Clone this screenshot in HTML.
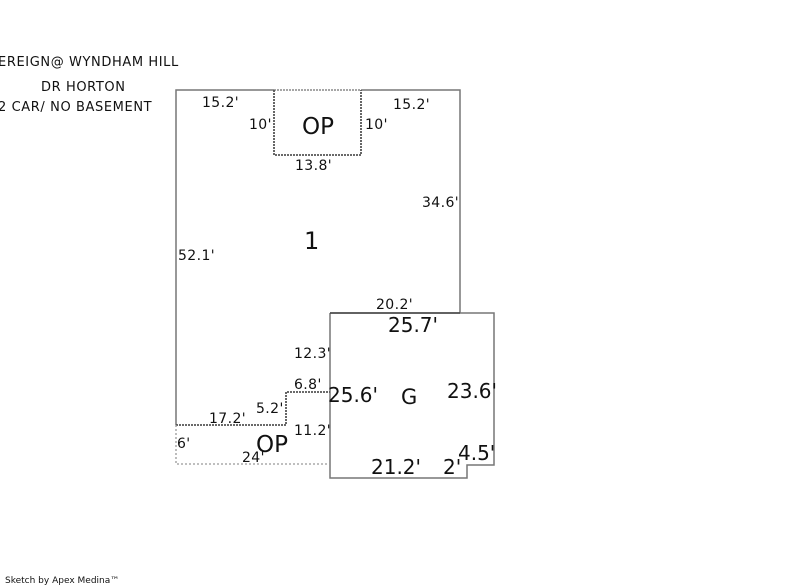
<!DOCTYPE html>
<html><head><meta charset="utf-8"><style>
html,body{margin:0;padding:0;background:#fff;}
svg{display:block;}
text{font-family:"DejaVu Sans","Liberation Sans",sans-serif;fill:#111;}
.s{font-size:14px;letter-spacing:0.4px;}
.h{font-size:13px;letter-spacing:0.6px;}
.m{font-size:20px;}
</style></head><body>
<svg width="800" height="587" viewBox="0 0 800 587" xmlns="http://www.w3.org/2000/svg">
<g fill="none" stroke="#777" stroke-width="1.5">
<polyline points="274,90 176,90 176,425"/>
<polyline points="361,90 460,90 460,313"/>
<polyline points="330,313 494,313 494,465 467,465 467,478 330,478 330,313"/>
</g>
<g fill="none" stroke="#555" stroke-width="1.8" stroke-dasharray="2,1">
<line x1="274" y1="90" x2="361" y2="90" stroke="#999"/>
<polyline points="274,90 274,155 361,155 361,90"/>
<polyline points="176,425 286,425 286,392 330,392"/>
</g>
<g fill="none" stroke="#999" stroke-width="1.3" stroke-dasharray="2,2">
<polyline points="176,425 176,464 330,464"/>
</g>
<line x1="330" y1="313" x2="460" y2="313" stroke="#444" stroke-width="1.5"/>
<text class="h" x="-2" y="66">EREIGN@ WYNDHAM HILL</text>
<text class="h" x="41" y="91">DR HORTON</text>
<text class="h" x="-2" y="111">2 CAR/ NO BASEMENT</text>
<text class="s" x="202" y="107">15.2'</text>
<text class="s" x="393" y="109">15.2'</text>
<text class="s" x="249" y="129">10'</text>
<text class="s" x="365" y="129">10'</text>
<text style="font-size:23px" x="302" y="134">OP</text>
<text class="s" x="295" y="170">13.8'</text>
<text class="s" x="422" y="207">34.6'</text>
<text style="font-size:24px" x="304" y="249">1</text>
<text class="s" x="178" y="260">52.1'</text>
<text class="s" x="376" y="309">20.2'</text>
<text class="m" x="388" y="332">25.7'</text>
<text class="s" x="294" y="358">12.3'</text>
<text class="s" x="294" y="389">6.8'</text>
<text class="m" x="328" y="402">25.6'</text>
<text style="font-size:21px" x="401" y="404">G</text>
<text class="m" x="447" y="398">23.6'</text>
<text class="s" x="256" y="413">5.2'</text>
<text class="s" x="209" y="423">17.2'</text>
<text class="s" x="294" y="435">11.2'</text>
<text class="s" x="177" y="448">6'</text>
<text style="font-size:23px" x="256" y="452">OP</text>
<text class="s" x="242" y="462">24'</text>
<text class="m" x="458" y="460">4.5'</text>
<text class="m" x="371" y="474">21.2'</text>
<text class="m" x="443" y="474">2'</text>
<text style="font-size:9px" x="5" y="583">Sketch by Apex Medina™</text>
</svg>
</body></html>
